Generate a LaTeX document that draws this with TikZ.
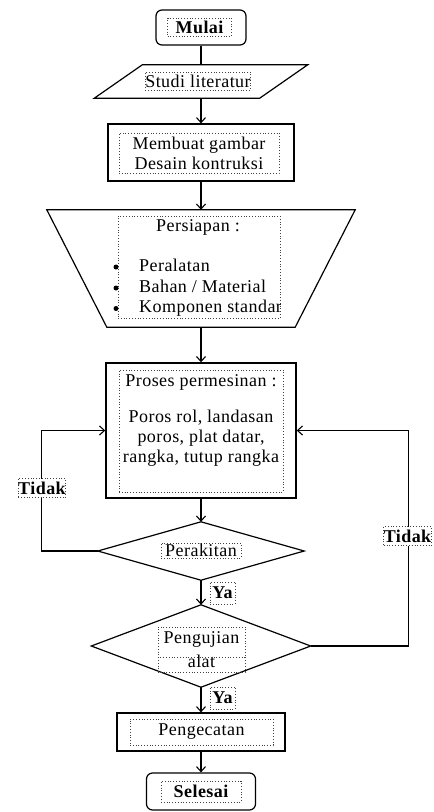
\documentclass[tikz,border=0pt]{standalone}
\usepackage{fontspec}
\setmainfont[LetterSpace=2.5]{Liberation Serif}
\usetikzlibrary{arrows.meta}
\tikzset{
  flow/.style={draw=black, line width=1.2pt},
  conn/.style={draw=black, line width=1.1pt, -{Straight Barb[length=5pt,width=9pt,line width=1.1pt]}},
  tbox/.style={draw=black!75, dotted, line width=0.8pt, inner sep=0pt, anchor=center},
  rbox/.style={flow, rectangle, inner sep=0pt},
  ghost/.style={rectangle, draw=none, inner sep=0pt},
  plain/.style={inner sep=0pt},
  bul/.style={circle, fill=black, inner sep=0pt, minimum size=5pt},
}
\begin{document}
\fontsize{18}{20}\selectfont
\begin{tikzpicture}[x=1pt,y=-1pt]
\useasboundingbox (0,0) rectangle (434,812);

% Mulai
\node[rbox, rounded corners=6pt, minimum width=90pt, minimum height=35pt] (mulai) at (201,27.5) {};
\node[tbox, font=\bfseries, minimum width=64pt, minimum height=18pt] (mulaitx) at (199.5,27) {Mulai};

% Studi literatur
\node[ghost, minimum width=213pt, minimum height=33pt] (studi) at (201,81.5) {};
\draw[flow] ([xshift=48pt]studi.north west) -- (studi.north east) -- ([xshift=-48pt]studi.south east) -- (studi.south west) -- cycle;
\node[tbox, minimum width=105pt, minimum height=18pt] (studitx) at (198,81) {Studi literatur};

% Membuat gambar
\node[rbox, minimum width=186pt, minimum height=57pt] (desain) at (201,152.5) {};
\node[tbox, align=center, minimum width=160pt, minimum height=40pt] (desaintx) at (199,153) {Membuat gambar\\Desain kontruksi};

% Persiapan
\node[ghost, minimum width=308pt, minimum height=117pt] (persiapan) at (201,268.5) {};
\draw[flow] (persiapan.north west) -- (persiapan.north east) -- ([xshift=-60pt]persiapan.south east) -- ([xshift=60pt]persiapan.south west) -- cycle;
\node[tbox, minimum width=162pt, minimum height=102pt] (persbox) at (199,267) {};
\node[plain] (perstitle) at (198,227) {Persiapan :};
\begin{scope}
\clip (persbox.south west) ++(-10,0) rectangle (persbox.north east);
\node[plain, anchor=west, align=left] (persitems) at (139,288) {Peralatan\\[0.5pt]Bahan / Material\\[0.5pt]Komponen standar};
\end{scope}
\node[bul] (b1) at (116,267) {};
\node[bul] (b2) at (116,288) {};
\node[bul] (b3) at (116,308.5) {};

% Proses permesinan
\node[rbox, line width=1.4pt, minimum width=190pt, minimum height=135pt] (proses) at (201,430.5) {};
\node[tbox, minimum width=164pt, minimum height=122pt] (prosesbox) at (201,431) {};
\node[plain] (prosestitle) at (201,382) {Proses permesinan :};
\node[plain, align=center] (prosestx) at (201,438) {Poros rol, landasan\\poros, plat datar,\\rangka, tutup rangka};

% Perakitan
\node[ghost, minimum width=206pt, minimum height=58pt] (rakit) at (201,551) {};
\draw[flow] (rakit.north) -- (rakit.east) -- (rakit.south) -- (rakit.west) -- cycle;
\node[tbox, minimum width=80pt, minimum height=15pt] (rakittx) at (201,550.5) {Perakitan};

% Pengujian alat
\node[ghost, minimum width=219pt, minimum height=82pt] (uji) at (201,646) {};
\draw[flow] (uji.north) -- (uji.east) -- (uji.south) -- (uji.west) -- cycle;
\node[tbox, align=center, minimum width=87pt, minimum height=45pt] (ujitx) at (201.5,649.5) {Pengujian\\[4pt]alat};
\draw[dotted, draw=black!75, line width=0.8pt] (ujitx.west |- 0,657) -- (ujitx.east |- 0,657);

% Pengecatan
\node[rbox, minimum width=168pt, minimum height=38pt] (cat) at (201,732) {};
\node[tbox, minimum width=143pt, minimum height=26pt] (cattx) at (201.5,732) {Pengecatan};

% Selesai
\node[rbox, rounded corners=6pt, minimum width=109pt, minimum height=37pt] (selesai) at (201,791.5) {};
\node[tbox, font=\bfseries, minimum width=80pt, minimum height=21pt] (selesaitx) at (201,791.5) {Selesai};

% Connectors
\draw[flow, line width=1.1pt] (mulai.south) -- (studi.north);
\draw[conn] (studi.south) -- (desain.north);
\draw[conn] (desain.south) -- (persiapan.north);
\draw[conn] (persiapan.south) -- (proses.north);
\draw[conn] (proses.south) -- (rakit.north);
\draw[conn] (rakit.west) -- ++(-56,0) |- (proses.west);
\draw[conn] (rakit.south) -- (uji.north);
\draw[conn] (uji.east) -- ++(98,0) |- (proses.east);
\draw[conn] (uji.south) -- (cat.north);
\draw[conn] (cat.south) -- (selesai.north);

% Labels
\node[tbox, fill=white, font=\bfseries, minimum width=45pt, minimum height=19pt] (tidak1) at (42,488) {Tidak};
\node[tbox, fill=white, font=\bfseries, minimum width=45pt, minimum height=19pt] (tidak2) at (407.5,536) {Tidak};
\node[tbox, fill=white, font=\bfseries, minimum width=25pt, minimum height=22pt] (ya1) at (222.5,593) {Ya};
\node[tbox, fill=white, font=\bfseries, minimum width=25pt, minimum height=22pt] (ya2) at (222.5,698) {Ya};
\end{tikzpicture}
\end{document}
